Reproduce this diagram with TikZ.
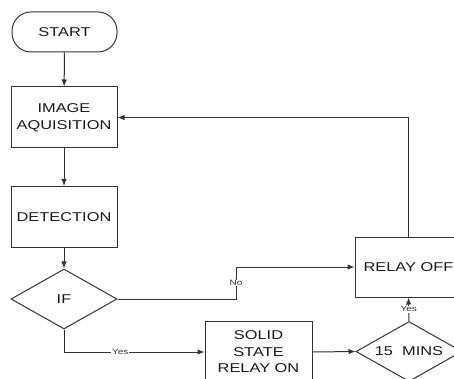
\documentclass[tikz,border=0pt]{standalone}
\usepackage{fontspec}
\setmainfont[FakeStretch=1.28]{Liberation Sans}
\usetikzlibrary{shapes.geometric,arrows.meta}
\begin{document}
\begin{tikzpicture}[x=1pt,y=-1pt,
  line/.style={draw=black!80, line width=1pt},
  arr/.style={line, -{Latex[length=7pt,width=5.5pt]}},
  txt/.style={font=\fontsize{12.8}{16.5}\selectfont, text=black!90, align=center},
  box/.style={rectangle, line, txt, minimum width=106pt, minimum height=61pt, inner sep=1pt},
  term/.style={rectangle, rounded corners=19pt, line, txt, minimum width=105pt, minimum height=40pt, inner sep=1pt},
  dec/.style={diamond, line, txt, minimum width=106pt, minimum height=60pt, aspect=1.77, inner sep=0pt},
  lbl/.style={fill=white, inner sep=0.6pt, font=\fontsize{7.8}{8}\selectfont, text=black!80}]
\useasboundingbox (0,0) rectangle (454,379);
\clip (0,0) rectangle (454,379);
\node[term] (start) at (64.5,32) {START};
\node[box] (img) at (64,117.5) {IMAGE\\AQUISITION};
\node[box] (det) at (64,217) {DETECTION};
\node[dec] (if) at (64,299) {IF};
\node[box, minimum height=60pt, minimum width=107pt] (off) at (408.5,267) {RELAY OFF};
\node[box, minimum height=62pt, minimum width=107pt] (ssr) at (258.5,352) {SOLID\\STATE\\RELAY ON};
\node[dec] (mins) at (409,351.5) {15~~MINS};
\coordinate (nb) at (236,299);
\coordinate (nt) at (236,267);
\draw[arr] (start) -- (img);
\draw[arr] (img) -- (det);
\draw[arr] (det) -- (if);
\draw[arr] (if.east) -- (nb) -- node[lbl]{No} (nt) -- (off.west);
\draw[arr] (off.north) |- (img.east);
\draw[arr] (if.south) |- node[lbl, pos=0.7]{Yes} (ssr.west);
\draw[arr] (ssr.east) -- (mins.west);
\draw[arr] (mins.north) -- node[lbl]{Yes} (off.south);
\end{tikzpicture}
\end{document}
